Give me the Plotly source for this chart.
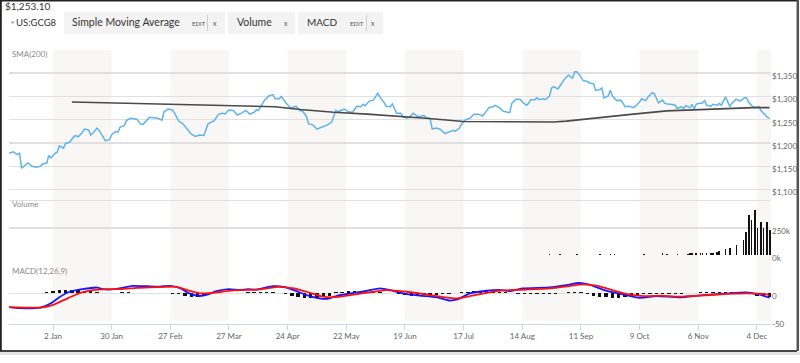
import plotly.graph_objects as go

# ---------------- DATA ----------------
price_dates = [
    "2016-12-12","2016-12-14","2016-12-16","2016-12-17","2016-12-18","2016-12-20","2016-12-21","2016-12-23","2016-12-25","2016-12-27","2016-12-28","2016-12-30","2016-12-31",
    "2017-01-01","2017-01-03","2017-01-04","2017-01-05","2017-01-07","2017-01-08","2017-01-10","2017-01-12","2017-01-13","2017-01-14","2017-01-16","2017-01-17","2017-01-19","2017-01-20","2017-01-21","2017-01-23","2017-01-24","2017-01-26","2017-01-27","2017-01-29","2017-01-30",
    "2017-02-01","2017-02-02","2017-02-03","2017-02-05","2017-02-06","2017-02-08","2017-02-11","2017-02-13","2017-02-14","2017-02-16","2017-02-17","2017-02-19","2017-02-21","2017-02-23","2017-02-24","2017-02-26","2017-02-28",
    "2017-03-01","2017-03-03","2017-03-05","2017-03-07","2017-03-09","2017-03-11","2017-03-13","2017-03-15","2017-03-17","2017-03-20","2017-03-22","2017-03-24","2017-03-25","2017-03-27","2017-03-29","2017-03-31",
    "2017-04-02","2017-04-04","2017-04-06","2017-04-08","2017-04-09","2017-04-10","2017-04-12","2017-04-13","2017-04-15","2017-04-17","2017-04-18","2017-04-20","2017-04-21","2017-04-23","2017-04-25","2017-04-26","2017-04-28","2017-04-30",
    "2017-05-01","2017-05-03","2017-05-04","2017-05-06","2017-05-08","2017-05-10","2017-05-13","2017-05-15","2017-05-17","2017-05-18","2017-05-21","2017-05-23","2017-05-25","2017-05-27","2017-05-29","2017-05-30","2017-05-31",
    "2017-06-02","2017-06-04","2017-06-06","2017-06-07","2017-06-09","2017-06-10","2017-06-12","2017-06-13","2017-06-15","2017-06-17","2017-06-18","2017-06-20","2017-06-21","2017-06-23","2017-06-25","2017-06-26","2017-06-28","2017-06-29",
    "2017-07-01","2017-07-02","2017-07-04","2017-07-06","2017-07-08","2017-07-10","2017-07-12","2017-07-13","2017-07-15","2017-07-16","2017-07-18","2017-07-20","2017-07-22","2017-07-24","2017-07-26","2017-07-28","2017-07-29","2017-07-31",
    "2017-08-01","2017-08-03","2017-08-05","2017-08-07","2017-08-08","2017-08-09","2017-08-11","2017-08-13","2017-08-14","2017-08-16","2017-08-17","2017-08-18","2017-08-20","2017-08-21","2017-08-22","2017-08-24","2017-08-25","2017-08-27","2017-08-28","2017-08-29","2017-08-31",
    "2017-09-01","2017-09-03","2017-09-05","2017-09-07","2017-09-08","2017-09-09","2017-09-11","2017-09-12","2017-09-14","2017-09-15","2017-09-17","2017-09-18","2017-09-20","2017-09-21","2017-09-22","2017-09-24","2017-09-25","2017-09-26","2017-09-28","2017-09-30",
    "2017-10-01","2017-10-02","2017-10-04","2017-10-06","2017-10-07","2017-10-09","2017-10-10","2017-10-12","2017-10-13","2017-10-15","2017-10-16","2017-10-17","2017-10-18","2017-10-20","2017-10-21","2017-10-23","2017-10-24","2017-10-26","2017-10-27","2017-10-29","2017-10-30","2017-10-31",
    "2017-11-02","2017-11-03","2017-11-04","2017-11-05","2017-11-06","2017-11-08","2017-11-09","2017-11-10","2017-11-12","2017-11-13","2017-11-15","2017-11-16","2017-11-17","2017-11-19","2017-11-21","2017-11-22","2017-11-24","2017-11-25","2017-11-26","2017-11-28","2017-11-29","2017-11-30",
    "2017-12-02","2017-12-03","2017-12-05","2017-12-06","2017-12-07","2017-12-09","2017-12-10",
]
price_values = [
    1178,1181,1175,1179,1146,1153,1157,1150,1148,1150,1155,1157,1173,
    1168,1178,1180,1194,1189,1199,1202,1214,1216,1213,1223,1230,1228,1217,1221,1232,1227,1213,1205,1207,1218,
    1225,1223,1234,1237,1248,1253,1251,1240,1240,1249,1255,1254,1253,1249,1267,1273,1271,
    1264,1247,1241,1229,1219,1214,1217,1216,1241,1248,1262,1264,1262,1271,1270,1260,
    1264,1270,1262,1266,1271,1270,1285,1292,1301,1304,1295,1295,1300,1287,1277,1276,1279,1269,
    1269,1257,1241,1239,1230,1234,1239,1245,1270,1267,1273,1267,1266,1279,1278,1283,1280,
    1290,1292,1307,1299,1287,1279,1278,1284,1264,1264,1256,1253,1255,1264,1257,1257,1259,1255,
    1252,1230,1232,1229,1220,1223,1227,1225,1232,1241,1250,1253,1262,1262,1258,1269,1276,1278,
    1281,1276,1268,1266,1265,1285,1294,1294,1288,1281,1285,1293,1293,1297,1293,1295,1293,1301,1318,1321,1316,
    1323,1336,1346,1339,1353,1353,1342,1334,1332,1329,1327,1313,1315,1318,1297,1301,1313,1301,1291,1292,
    1286,1278,1279,1276,1279,1288,1295,1291,1299,1308,1306,1295,1286,1292,1285,1283,1283,1281,1274,1278,1274,1280,
    1276,1283,1273,1283,1285,1286,1291,1281,1279,1283,1281,1285,1281,1299,1279,1285,1294,1292,1290,1297,1297,1288,
    1278,1276,1278,1269,1264,1255,1253.1,
]

sma_dates = ["2017-01-11","2017-02-17","2017-04-11","2017-04-18","2017-04-30","2017-05-16","2017-06-01",
             "2017-06-17","2017-06-29","2017-07-17","2017-07-26","2017-08-08","2017-08-19","2017-08-29",
             "2017-09-04","2017-09-20","2017-10-06","2017-10-22","2017-11-07","2017-11-23","2017-12-02","2017-12-10"]
sma_values = [1288,1284,1278,1278,1272,1266,1262,1257,1253,1246,1246,1246,1245,1245,
              1247,1255,1262,1269,1272,1274,1276,1276]

volume_dates = ["2017-08-27","2017-09-01","2017-09-09","2017-09-20","2017-09-25","2017-09-27","2017-10-11",
                "2017-10-20","2017-10-22","2017-10-27","2017-11-01","2017-11-02","2017-11-03","2017-11-05",
                "2017-11-07","2017-11-08","2017-11-10","2017-11-12","2017-11-13","2017-11-15","2017-11-16",
                "2017-11-19","2017-11-21","2017-11-24 08:00","2017-11-27 12:00","2017-11-28 18:00",
                "2017-11-30 08:00","2017-12-01 12:00","2017-12-03 00:00","2017-12-04 08:00","2017-12-05 22:00",
                "2017-12-07 05:00","2017-12-08 16:00","2017-12-10 05:00"]
volume_values = [15000,10000,12000,12000,15000,10000,15000,
                 20000,12000,15000,15000,18000,20000,18000,
                 22000,20000,22000,25000,20000,30000,35000,
                 55000,70000,98000,137000,217000,
                 365000,321000,411000,250000,308000,
                 250000,303000,232000]

macd_dates = ["2016-12-12","2016-12-17","2016-12-27","2017-01-01","2017-01-05","2017-01-10","2017-01-16",
              "2017-01-23","2017-01-26","2017-01-29","2017-02-04","2017-02-09","2017-02-16","2017-02-22",
              "2017-02-27","2017-03-04","2017-03-08","2017-03-13","2017-03-17","2017-03-21","2017-03-27",
              "2017-04-01","2017-04-05","2017-04-09","2017-04-17","2017-04-22","2017-04-27","2017-05-03",
              "2017-05-09","2017-05-13","2017-05-18","2017-05-24","2017-06-01","2017-06-07","2017-06-12",
              "2017-06-18","2017-06-26","2017-07-04","2017-07-10","2017-07-14","2017-07-20","2017-07-28",
              "2017-08-03","2017-08-08","2017-08-14","2017-08-27","2017-09-04","2017-09-10","2017-09-15",
              "2017-09-23","2017-10-01","2017-10-09","2017-10-17","2017-10-28","2017-11-07","2017-11-20",
              "2017-11-29","2017-12-05","2017-12-10"]
macd_values = [-25,-27,-26,-18,-7,3,7.7,
               10.7,7.7,7,10,13.7,13,12.5,
               13.7,9,0,-4.8,-1.8,4,7.7,
               6,7.7,7,13,12,6,-3,
               -9,-10,-4,0,4.8,9,6,
               0,-4,-7,-13,-11,0,4.8,
               6.5,4,9,11,15,19,16,
               5,-2,-8,-5,-7,-3.6,0,
               1.8,-2,-8]

signal_dates = ["2016-12-12","2016-12-28","2017-01-02","2017-01-09","2017-01-15","2017-01-21","2017-01-28",
                "2017-02-03","2017-02-11","2017-02-17","2017-02-25","2017-03-02","2017-03-07","2017-03-13",
                "2017-03-19","2017-03-29","2017-04-11","2017-04-20","2017-04-27","2017-05-03","2017-05-11",
                "2017-05-16","2017-05-24","2017-06-04","2017-06-10","2017-06-20","2017-06-29","2017-07-06",
                "2017-07-14","2017-07-20","2017-07-28","2017-08-05","2017-08-16","2017-08-27","2017-09-06",
                "2017-09-12","2017-09-19","2017-09-26","2017-10-04","2017-10-11","2017-10-19","2017-10-28",
                "2017-11-07","2017-11-20","2017-11-29","2017-12-07","2017-12-10"]
signal_values = [-25,-25.6,-21,-9,1,6,7.7,
                 7.7,10,11,12,12,6,0,
                 1,5.4,7.5,12,9,3,-6,
                 -7,-3,3,6,3,-2,-6,
                 -9,-5,1,5.5,7,9,13.7,
                 16.6,13.7,6,-2,-5,-4,-6,
                 -4,-1,0,-1,-3]

# histogram sampled every third day starting 2016-12-12
hist_dates = [
    "2016-12-12","2016-12-15","2016-12-18","2016-12-21","2016-12-24","2016-12-27","2016-12-30","2017-01-02","2017-01-05","2017-01-08",
    "2017-01-11","2017-01-14","2017-01-17","2017-01-20","2017-01-23","2017-01-26","2017-01-29","2017-02-01","2017-02-04","2017-02-07",
    "2017-02-10","2017-02-13","2017-02-16","2017-02-19","2017-02-22","2017-02-25","2017-02-28","2017-03-03","2017-03-06","2017-03-09",
    "2017-03-12","2017-03-15","2017-03-18","2017-03-21","2017-03-24","2017-03-27","2017-03-30","2017-04-02","2017-04-05","2017-04-08",
    "2017-04-11","2017-04-14","2017-04-17","2017-04-20","2017-04-23","2017-04-26","2017-04-29","2017-05-02","2017-05-05","2017-05-08",
    "2017-05-11","2017-05-14","2017-05-17","2017-05-20","2017-05-23","2017-05-26","2017-05-29","2017-06-01","2017-06-04","2017-06-07",
    "2017-06-10","2017-06-13","2017-06-16","2017-06-19","2017-06-22","2017-06-25","2017-06-28","2017-07-01","2017-07-04","2017-07-07",
    "2017-07-10","2017-07-13","2017-07-16","2017-07-19","2017-07-22","2017-07-25","2017-07-28","2017-07-31","2017-08-03","2017-08-06",
    "2017-08-09","2017-08-12","2017-08-15","2017-08-18","2017-08-21","2017-08-24","2017-08-27","2017-08-30","2017-09-02","2017-09-05",
    "2017-09-08","2017-09-11","2017-09-14","2017-09-17","2017-09-20","2017-09-23","2017-09-26","2017-09-29","2017-10-02","2017-10-05",
    "2017-10-08","2017-10-11","2017-10-14","2017-10-17","2017-10-20","2017-10-23","2017-10-26","2017-10-29","2017-11-01","2017-11-04",
    "2017-11-07","2017-11-10","2017-11-13","2017-11-16","2017-11-19","2017-11-22","2017-11-25","2017-11-28","2017-12-01","2017-12-04",
    "2017-12-07","2017-12-10",
]
hist_values = [
    0, 1, 1, 0.5, 0.5, 0.5, 3, 5, 6, 7,
    7, 6, 5, 4, 2, 0.5, 0.5, 1, 2, 2,
    1.5, 0.5, 0.5, 0.5, 0.5, 0.5, -0.5, -2, -4, -6,
    -6, -4, 1, 2, 1.5, 1, 1, 1.5, 2, 2,
    3, 3, 2.5, 1, -2, -4, -6, -8, -9, -8,
    -7, -4, 2, 3, 3.5, 3.5, 3, 3, 2.5, 2,
    0.5, 0, -2, -3, -4, -4, -3.5, -3, -2.5, -2,
    -1, 1, 2, 3, 4, 4, 3.5, 3, 2.5, 2,
    1, -1, -1, -1, -1.5, -1, -1, -1, 0.5, 2,
    2.5, 2, -2, -4, -6, -7, -8, -8, -7, -5,
    -3, -1, -1, -1, -2, -2, -2, -2, 1, 1.5,
    2, 2, 2, 2.5, 2, 2, 1.5, 1, -2, -4,
    -5, -6,
]

x_tick_dates = ["2017-01-02","2017-01-30","2017-02-27","2017-03-27","2017-04-24","2017-05-22","2017-06-19",
                "2017-07-17","2017-08-14","2017-09-11","2017-10-09","2017-11-06","2017-12-04"]
x_tick_labels = ["2 Jan","30 Jan","27 Feb","27 Mar","24 Apr","22 May","19 Jun",
                 "17 Jul","14 Aug","11 Sep","9 Oct","6 Nov","4 Dec"]
band_starts = ["2017-01-02","2017-02-27","2017-04-24","2017-06-19","2017-08-14","2017-10-09","2017-12-04"]
band_ends = ["2017-01-30","2017-03-27","2017-05-22","2017-07-17","2017-09-11","2017-11-06","2017-12-10 17:00"]

price_ticks = [1100, 1150, 1200, 1250, 1300, 1350, 1400]
price_tick_labels = ["$1,100", "$1,150", "$1,200", "$1,250", "$1,300", "$1,350", ""]
vol_ticks = [0, 250000, 500000]
vol_tick_labels = ["0k", "250k", ""]
macd_ticks = [-50, 0, 50]
macd_tick_labels = ["-50", "0", ""]

last_price_label = "$1,253.10"
symbol = "US:GCG8"

# ---------------- LAYOUT HELPERS ----------------
W, H = 800, 363
def PX(px):
    return px / W
def PY(py):
    return 1 - py / H

FONT = "Lato, 'Open Sans', sans-serif"
GRID = "#e0e0e0"
TICKFONT = dict(family=FONT, size=8, color="#666666")

fig = go.Figure()

fig.add_trace(go.Scatter(x=price_dates, y=price_values, mode="lines",
                         line=dict(color="#5fb3ea", width=1.5), xaxis="x", yaxis="y", hoverinfo="skip"))
fig.add_trace(go.Scatter(x=sma_dates, y=sma_values, mode="lines",
                         line=dict(color="#4a4a4a", width=1.6), xaxis="x", yaxis="y", hoverinfo="skip"))
fig.add_trace(go.Bar(x=volume_dates, y=volume_values, marker=dict(color="#111111", line=dict(width=0)),
                     width=0.75 * 86400000, xaxis="x", yaxis="y2", hoverinfo="skip"))
fig.add_trace(go.Bar(x=hist_dates, y=hist_values, marker=dict(color="#111111", line=dict(width=0)),
                     width=1.6 * 86400000, xaxis="x", yaxis="y3", hoverinfo="skip"))
fig.add_trace(go.Scatter(x=macd_dates, y=macd_values, mode="lines", line=dict(color="#1515ff", width=1.8, shape="spline", smoothing=0.6),
                         xaxis="x", yaxis="y3", hoverinfo="skip"))
fig.add_trace(go.Scatter(x=signal_dates, y=signal_values, mode="lines", line=dict(color="#ff1010", width=1.8, shape="spline", smoothing=0.6),
                         xaxis="x", yaxis="y3", hoverinfo="skip"))

shapes = []
# alternating shaded bands
for s, e in zip(band_starts, band_ends):
    shapes.append(dict(type="rect", xref="x", yref="paper", x0=s, x1=e, y0=PY(328), y1=PY(51),
                       fillcolor="#f8f7f5", line=dict(width=0), layer="below"))
# header legend boxes
for x0, x1 in [(64, 225), (228, 295), (298, 383)]:
    shapes.append(dict(type="rect", xref="paper", yref="paper", x0=PX(x0), x1=PX(x1), y0=PY(35), y1=PY(12),
                       fillcolor="#f3f3f3", line=dict(width=0), layer="below"))
for xd in [207.5, 366.5]:
    shapes.append(dict(type="line", xref="paper", yref="paper", x0=PX(xd), x1=PX(xd), y0=PY(32), y1=PY(15),
                       line=dict(color="#d0d0d0", width=1)))
# outer frame
shapes.append(dict(type="rect", xref="paper", yref="paper", x0=0, x1=1, y0=0, y1=PY(359.5),
                   fillcolor="#e2e2e2", line=dict(width=0)))
shapes.append(dict(type="line", xref="paper", yref="paper", x0=0, x1=PX(797), y0=PY(359), y1=PY(359),
                   line=dict(color="#444444", width=2)))
shapes.append(dict(type="line", xref="paper", yref="paper", x0=0, x1=PX(798), y0=PY(0.5), y1=PY(0.5),
                   line=dict(color="#222222", width=2)))
shapes.append(dict(type="line", xref="paper", yref="paper", x0=PX(0.8), x1=PX(0.8), y0=PY(359), y1=1,
                   line=dict(color="#222222", width=2)))
shapes.append(dict(type="line", xref="paper", yref="paper", x0=PX(797.8), x1=PX(797.8), y0=PY(359), y1=1,
                   line=dict(color="#555555", width=2.5)))

def note(text, x, y, size, color, anchor="left"):
    return dict(text=text, x=PX(x), y=PY(y), xref="paper", yref="paper", xanchor=anchor, yanchor="middle",
                showarrow=False, font=dict(family=FONT, size=size, color=color))

annotations = [
    note(last_price_label, 3, 6, 10, "#333333"),
    note("●", 8.5, 23, 5, "#5fb3ea"),
    note(symbol, 14, 22.5, 9.5, "#333333"),
    note("Simple Moving Average", 70, 22, 10.5, "#333333"),
    note("EDIT", 190, 24.5, 6, "#555555"),
    note("x", 215, 24, 7, "#555555", "center"),
    note("Volume", 235, 22, 10.5, "#333333"),
    note("x", 285.5, 24, 7, "#555555", "center"),
    note("MACD", 305, 22, 10, "#333333"),
    note("EDIT", 348, 24.5, 6, "#555555"),
    note("x", 373, 24, 7, "#555555", "center"),
    note("SMA(200)", 10, 55.5, 8, "#8a8a8a"),
    note("Volume", 10, 209, 8, "#8a8a8a"),
    note("MACD(12,26,9)", 10, 277, 8, "#8a8a8a"),
]

yaxis_common = dict(side="right", anchor="x", showgrid=True, gridcolor=GRID, gridwidth=1.5,
                    zeroline=False, showline=False, ticks="", tickfont=TICKFONT, ticklabelshift=3,
                    fixedrange=True)

fig.update_layout(
    width=W, height=H,
    margin=dict(l=0, r=0, t=0, b=0),
    paper_bgcolor="white", plot_bgcolor="rgba(0,0,0,0)",
    showlegend=False, bargap=0,
    font=dict(family=FONT),
    xaxis=dict(type="date", domain=[PX(9), PX(771)], range=["2016-12-12", "2017-12-10 17:00"],
               anchor="free", position=PY(331), showgrid=False, zeroline=False,
               showline=True, linecolor="#ccd6eb", linewidth=1,
               ticks="outside", ticklen=5, tickcolor="#ccd6eb", tickwidth=1,
               tickvals=x_tick_dates, ticktext=x_tick_labels, tickfont=TICKFONT, fixedrange=True),
    yaxis=dict(domain=[PY(200), PY(51)], range=[1087, 1400], tickvals=price_ticks,
               ticktext=price_tick_labels, **yaxis_common),
    yaxis2=dict(domain=[PY(261), PY(204)], range=[0, 510000], tickvals=vol_ticks,
                ticktext=vol_tick_labels, **yaxis_common),
    yaxis3=dict(domain=[PY(328), PY(272)], range=[-50, 50], tickvals=macd_ticks,
                ticktext=macd_tick_labels, **yaxis_common),
    shapes=shapes,
    annotations=annotations,
)

fig.write_html("out.html", config={"displayModeBar": False, "staticPlot": True},
               post_script="document.body.style.margin='0';document.body.style.padding='0';")
